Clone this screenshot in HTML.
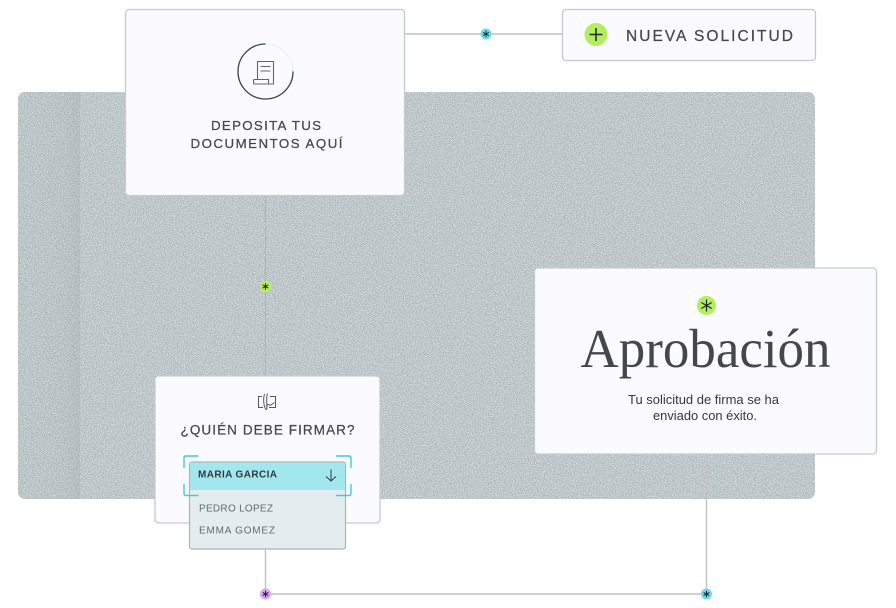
<!DOCTYPE html>
<html lang="es">
<head>
<meta charset="utf-8">
<title>Aprobación</title>
<style>
html,body{margin:0;padding:0;background:#fff;width:896px;height:608px;overflow:hidden}
svg{display:block}
text{font-family:"Liberation Sans",sans-serif}
.m{stroke:currentColor;stroke-width:.25px}
</style>
</head>
<body>
<svg width="896" height="608" viewBox="0 0 896 608" xmlns="http://www.w3.org/2000/svg">
<defs>
<filter id="noise" x="0" y="0" width="100%" height="100%" color-interpolation-filters="sRGB">
<feTurbulence type="fractalNoise" baseFrequency="1.1" numOctaves="2" seed="4"/>
<feColorMatrix type="matrix" values="0 0 0 0 0.9  0 0 0 0 0.92  0 0 0 0 0.93  2.6 0 0 0 -1"/>
<feComposite in2="SourceAlpha" operator="in"/>
<feMerge><feMergeNode in="SourceGraphic"/><feMergeNode/></feMerge>
</filter>
<linearGradient id="fold" x1="0" x2="1" y1="0" y2="0">
<stop offset="0" stop-color="#8a979a" stop-opacity=".03"/>
<stop offset=".75" stop-color="#8a979a" stop-opacity=".08"/>
<stop offset="1" stop-color="#8a979a" stop-opacity=".2"/>
</linearGradient>
<clipPath id="panel"><rect x="18" y="92" width="797" height="407" rx="7"/></clipPath>
</defs>

<!-- textured panel -->
<rect x="18" y="92" width="797" height="407" rx="7" fill="#acb7ba" filter="url(#noise)"/>
<rect x="18" y="92" width="62" height="407" fill="url(#fold)" clip-path="url(#panel)"/>

<!-- connectors -->
<g stroke="#bfc2c8" stroke-width="1.400" fill="none">
<path d="M405 34H562"/>
<path d="M265.500 549V594H706.500V454"/>
</g>
<path d="M265.500 196V376" stroke="#9aa6a9" stroke-width=".6" fill="none"/>

<!-- card: deposita -->
<rect x="125.500" y="9.500" width="279" height="186" rx="3.500" fill="#fbfbff" stroke="#c5cbcf" stroke-width="1.300"/>
<circle cx="265.500" cy="71.500" r="27.500" fill="none" stroke="#e2eeee" stroke-width="1"/>
<path d="M265.500 44A27.500 27.500 0 1 0 293 71.500" fill="none" stroke="#3f4247" stroke-width="1.300"/>
<g fill="none" stroke="#63666c" stroke-width="1.100">
<path d="M257.500 79.500V61.500H273.500V84H254.500Q253.500 84 253.500 83V80.500Q253.500 79.500 254.500 79.500H268.500V84"/>
<path d="M260.500 66.500H270.500M260.500 71H270.500"/>
</g>
<text class="m" color="#45474d" x="266" y="129.800" text-anchor="middle" font-size="13.300" fill="#45474d" textLength="110" lengthAdjust="spacing">DEPOSITA TUS</text>
<text class="m" color="#45474d" x="266.500" y="148" text-anchor="middle" font-size="13.300" fill="#45474d" textLength="152" lengthAdjust="spacing">DOCUMENTOS AQUÍ</text>

<!-- button: nueva solicitud -->
<rect x="562.500" y="9.500" width="253" height="51" rx="3.500" fill="#fbfbff" stroke="#c5c8ce" stroke-width="1.300"/>
<circle cx="596" cy="34.500" r="11.500" fill="#b2ee5e"/>
<path d="M589.500 34.500H602.500M596 28V41" stroke="#23262a" stroke-width="1.500"/>
<text class="m" color="#45474d" x="626" y="41" font-size="15.500" fill="#45474d" textLength="167" lengthAdjust="spacing">NUEVA SOLICITUD</text>

<!-- approval card -->
<rect x="534.500" y="268" width="342" height="186" rx="3.500" fill="#fbfbff" stroke="#c3cbcf" stroke-width="1.300"/>
<circle cx="706.500" cy="305.500" r="9.500" fill="#b2ee5e"/>
<path d="M706.500 299.500V311.500M701.300 302.500L711.700 308.500M701.300 308.500L711.700 302.500" stroke="#23262a" stroke-width="1.200" fill="none"/>
<text x="705.500" y="367" text-anchor="middle" font-size="55.500" fill="#45474d" textLength="250" lengthAdjust="spacingAndGlyphs" style="font-family:'Liberation Serif',serif">Aprobación</text>
<text x="703.500" y="404" text-anchor="middle" font-size="13" fill="#33363b" textLength="151" lengthAdjust="spacingAndGlyphs">Tu solicitud de firma se ha</text>
<text x="705" y="420" text-anchor="middle" font-size="13" fill="#33363b" textLength="104" lengthAdjust="spacingAndGlyphs">enviado con éxito.</text>

<!-- signer card -->
<rect x="155" y="376" width="225" height="147" rx="3.500" fill="#fbfbff" stroke="#c5cbcf" stroke-width="1.300"/>
<g fill="none" stroke="#55585e" stroke-width="1">
<path d="M262 396.500H258.500V407.500H263M270 396.500H275.500V407.500H269"/>
<path d="M264.500 394C262.500 401 264.500 409 266.500 409.500C268 409.500 265.500 398 267.500 393.500M266 406.500C269 402 269.500 406.500 271 405L274.500 402.500"/>
</g>
<text class="m" color="#45474d" x="267.500" y="434.300" text-anchor="middle" font-size="13.500" fill="#45474d" textLength="174" lengthAdjust="spacing">¿QUIÉN DEBE FIRMAR?</text>

<!-- dropdown -->
<rect x="189.500" y="462" width="156" height="87" rx="2.500" fill="#e3edef" stroke="#aab4b8" stroke-width="1.200"/>
<path d="M190 490V464.500Q190 462.500 192 462.500H343Q345 462.500 345 464.500V490Z" fill="#a2e7ee"/>
<text x="198" y="477.300" font-size="10" font-weight="bold" fill="#2f3a40" textLength="79" lengthAdjust="spacing">MARIA GARCIA</text>
<path d="M331 469.500V481M326 476.500L331 481L336 476.500" fill="none" stroke="#33383d" stroke-width="1"/>
<text x="199" y="511.700" font-size="10" fill="#63696e" textLength="74" lengthAdjust="spacing">PEDRO LOPEZ</text>
<text x="199" y="533.300" font-size="10" fill="#63696e" textLength="76" lengthAdjust="spacing">EMMA GOMEZ</text>
<g fill="none" stroke="#3fcbd9" stroke-width="1.400">
<path d="M198.500 456H186Q184 456 184 458V468"/>
<path d="M336 456H349Q351 456 351 458V468"/>
<path d="M184 484V493Q184 495.500 186 495.500H198.500"/>
<path d="M351 484V493Q351 495.500 349 495.500H336"/>
</g>

<!-- nodes -->
<circle cx="486" cy="34" r="5.500" fill="#69dcea"/>
<circle cx="265.500" cy="286.500" r="5.500" fill="#b2ee5e"/>
<circle cx="265.500" cy="594" r="5.500" fill="#dba2f5"/>
<circle cx="706.500" cy="594" r="5.500" fill="#69dcea"/>
<g stroke="#20252a" stroke-width="1" fill="none">
<path d="M486 30.800V37.200M483.200 32.400L488.800 35.600M483.200 35.600L488.800 32.400"/>
<path d="M265.500 283.300V289.700M262.700 284.900L268.300 288.100M262.700 288.100L268.300 284.900"/>
<path d="M265.500 590.800V597.200M262.700 592.400L268.300 595.600M262.700 595.600L268.300 592.400"/>
<path d="M706.500 590.800V597.200M703.700 592.400L709.300 595.600M703.700 595.600L709.300 592.400"/>
</g>
</svg>
</body>
</html>
